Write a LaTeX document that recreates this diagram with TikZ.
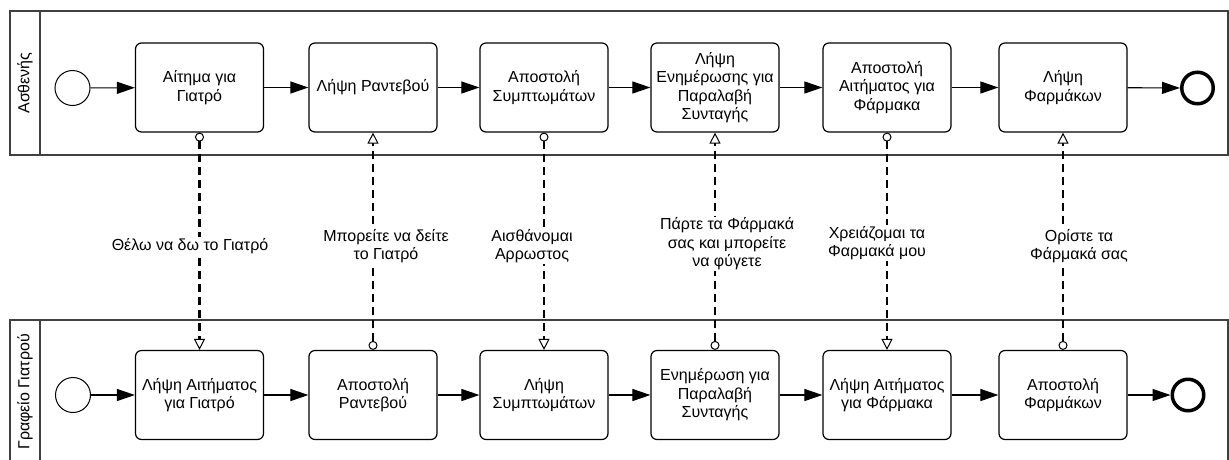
\documentclass[tikz,border=0pt]{standalone}
\usepackage{fontspec}
\setmainfont{Liberation Sans}
\usetikzlibrary{arrows.meta}
\begin{document}
\begin{tikzpicture}[x=1pt,y=-1pt,
 font=\fontsize{16}{18.5}\selectfont,
 pool/.style={draw=black!75, line width=1.2pt},
 task/.style={draw, line width=1.2pt, rounded corners=6pt, minimum width=128pt, minimum height=89pt, align=center, inner sep=1pt},
 startev/.style={circle, draw, line width=1pt, minimum size=35pt, inner sep=0pt},
 endev/.style={circle, draw, line width=3.5pt, minimum size=31.5pt, inner sep=0pt},
 seq/.style={line width=1.1pt, -{Triangle[length=18pt,width=12pt]}},
 msg/.style={line width=2.5pt, dash pattern=on 8pt off 5pt,
   {Circle[fill=white,line width'=1pt,length=9pt,width=9pt]}-{Triangle[fill=white,line width'=1pt,length=11pt,width=11pt]}},
 msglabel/.style={fill=white, inner sep=1pt, align=center}
]
\useasboundingbox (0,0) rectangle (1229,459);
% pools
\draw[pool] (10,11) rectangle (1228,155);
\draw[pool] (40,11) -- (40,155);
\node[rotate=90] (pA) at (25,83) {Ασθενής};
\draw[pool] (10,465) -- (10,320) -- (1228,320) -- (1228,465);
\draw[pool] (40,320) -- (40,465);
\node[rotate=90] (pB) at (25,392) {Γραφείο Γιατρού};
% top lane
\node[startev] (s1) at (72.5,88) {};
\node[task] (t1) at (199.5,87.5) {Αίτημα για\\Γιατρό};
\node[task] (t2) at (373,87.5) {Λήψη Ραντεβού};
\node[task] (t3) at (544,87.5) {Αποστολή\\Συμπτωμάτων};
\node[task] (t4) at (715,87.5) {Λήψη\\Ενημέρωσης για\\Παραλαβή\\Συνταγής};
\node[task] (t5) at (887,87.5) {Αποστολή\\Αιτήματος για\\Φάρμακα};
\node[task] (t6) at (1063,87.5) {Λήψη\\Φαρμάκων};
\node[endev] (e1) at (1197.5,88) {};
% bottom lane
\node[startev] (s2) at (73,395) {};
\node[task] (b1) at (199.5,395) {Λήψη Αιτήματος\\για Γιατρό};
\node[task] (b2) at (373,395) {Αποστολή\\Ραντεβού};
\node[task] (b3) at (544,395) {Λήψη\\Συμπτωμάτων};
\node[task] (b4) at (715,395) {Ενημέρωση για\\Παραλαβή\\Συνταγής};
\node[task] (b5) at (887,395) {Λήψη Αιτήματος\\για Φάρμακα};
\node[task] (b6) at (1063,395) {Αποστολή\\Φαρμάκων};
\node[endev] (e2) at (1188,395) {};
% sequence flows
\draw[seq] (s1) -- (t1);
\draw[seq] (t1) -- (t2);
\draw[seq] (t2) -- (t3);
\draw[seq] (t3) -- (t4);
\draw[seq] (t4) -- (t5);
\draw[seq] (t5) -- (t6);
\draw[seq] (t6) -- (e1);
\draw[seq] (s2) -- (b1);
\draw[seq] (b1) -- (b2);
\draw[seq] (b2) -- (b3);
\draw[seq] (b3) -- (b4);
\draw[seq] (b4) -- (b5);
\draw[seq] (b5) -- (b6);
\draw[seq] (b6) -- (e2);
% message flows
\draw[msg] (t1.south) -- (b1.north);
\draw[msg] (b2.north) -- (t2.south);
\draw[msg] (t3.south) -- (b3.north);
\draw[msg] (b4.north) -- (t4.south);
\draw[msg] (t5.south) -- (b5.north);
\draw[msg] (b6.north) -- (t6.south);
% message labels
\node[msglabel] (m1) at (190,246) {Θέλω να δω το Γιατρό};
\node[msglabel] (m2) at (386,246) {Μπορείτε να δείτε\\το Γιατρό};
\node[msglabel] (m3) at (532,246) {Αισθάνομαι\\Αρρωστος};
\node[msglabel] (m4) at (727,244) {Πάρτε τα Φάρμακά\\σας και μπορείτε\\να φύγετε};
\node[msglabel] (m5) at (877,243) {Χρειάζομαι τα\\Φαρμακά μου};
\node[msglabel] (m6) at (1079,246) {Ορίστε τα\\Φάρμακά σας};
\end{tikzpicture}
\end{document}
